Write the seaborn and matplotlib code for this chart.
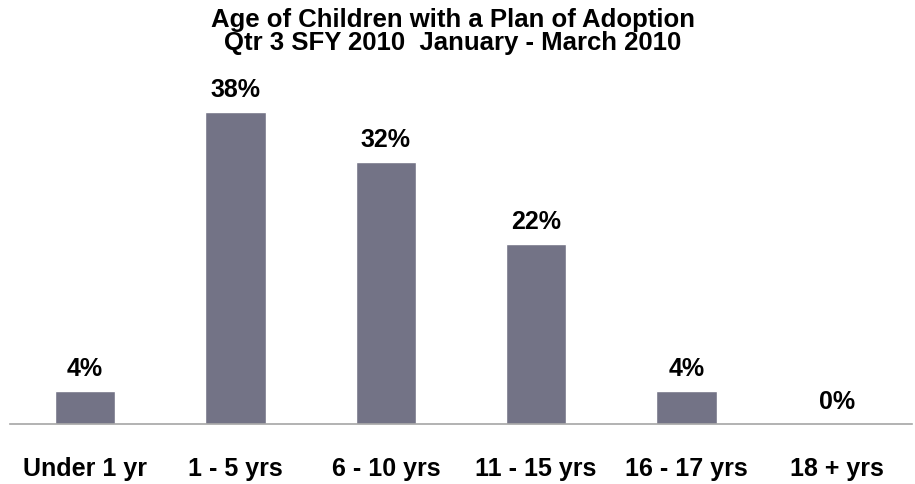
import matplotlib
matplotlib.use("Agg")
import matplotlib.pyplot as plt
import seaborn as sns
import pandas as pd

categories = ["Under 1 yr", "1 - 5 yrs", "6 - 10 yrs", "11 - 15 yrs", "16 - 17 yrs", "18 + yrs"]
values = [4, 38, 32, 22, 4, 0]
labels = ["4%", "38%", "32%", "22%", "4%", "0%"]
title_lines = ["Age of Children with a Plan of Adoption", "Qtr 3 SFY 2010  January - March 2010"]

sns.set_style("white")
plt.rcParams['font.family'] = ['Liberation Sans', 'DejaVu Sans']
plt.rcParams['text.color'] = 'black'
plt.rcParams['xtick.color'] = 'black'

df = pd.DataFrame({"cat": categories, "val": values})

fig = plt.figure(figsize=(9.15, 4.85), dpi=100)
ax = fig.add_axes([10/915, 60/485, 902/915, 328/485])
sns.barplot(data=df, x="cat", y="val", color="#737386", saturation=1, width=0.4, ax=ax)

ax.set_ylim(0, 40)
ax.set_xlim(-0.5, len(categories) - 0.5)
for s in ["top", "right", "left"]:
    ax.spines[s].set_visible(False)
ax.spines["bottom"].set_color("#a6a6a6")
ax.spines["bottom"].set_linewidth(1.2)
ax.set_yticks([])
ax.set_xlabel("")
ax.set_ylabel("")
ax.tick_params(axis="x", length=0, pad=23)
for t in ax.get_xticklabels():
    t.set_fontsize(18)
    t.set_fontweight("bold")
    t.set_color("black")

for i, (v, lab) in enumerate(zip(values, labels)):
    ax.annotate(lab, xy=(i, v), xytext=(0, 11.5), textcoords="offset points",
                ha="center", va="baseline", fontsize=18, fontweight="bold", color="black")

fig.text(0.495, 1 - 27/485, title_lines[0], ha="center", va="baseline", fontsize=18.5, fontweight="bold", color="black")
fig.text(0.495, 1 - 50/485, title_lines[1], ha="center", va="baseline", fontsize=18.5, fontweight="bold", color="black")

fig.savefig("out.png", dpi=100)
